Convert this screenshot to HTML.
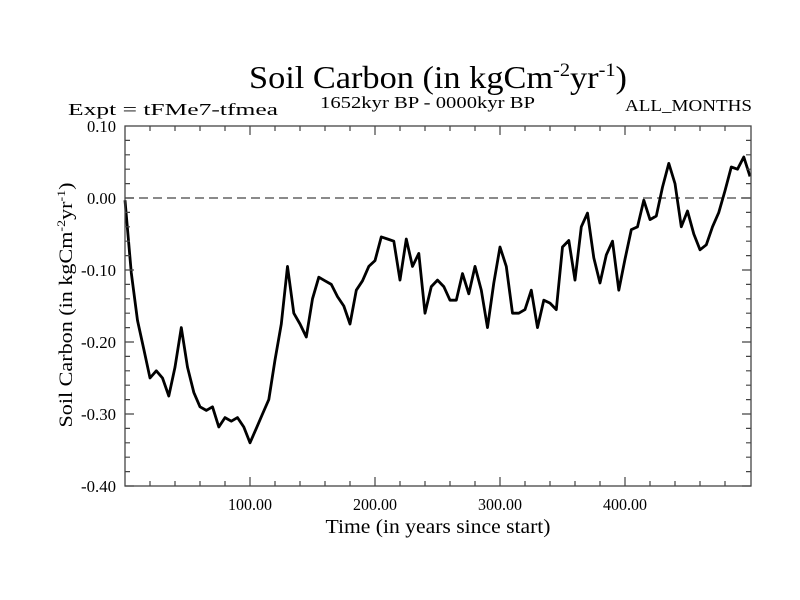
<!DOCTYPE html>
<html><head><meta charset="utf-8"><style>
body{margin:0;background:#fff}
svg{display:block;font-family:"Liberation Serif","Times New Roman",serif}
</style></head><body>
<svg id="chart" width="800" height="600" viewBox="0 0 800 600">
<text x="438" y="88" text-anchor="middle" font-size="32" textLength="378" lengthAdjust="spacingAndGlyphs">Soil Carbon (in kgCm<tspan font-size="19" dy="-12">-2</tspan><tspan dy="12">yr</tspan><tspan font-size="19" dy="-12">-1</tspan><tspan dy="12">)</tspan></text>
<text x="68" y="115" font-size="17" textLength="210" lengthAdjust="spacingAndGlyphs">Expt = tFMe7-tfmea</text>
<text x="320" y="108" font-size="17" textLength="215" lengthAdjust="spacingAndGlyphs">1652kyr BP - 0000kyr BP</text>
<text x="752" y="111" text-anchor="end" font-size="17" textLength="127" lengthAdjust="spacingAndGlyphs">ALL_MONTHS</text>
<text transform="translate(72,305) rotate(-90)" text-anchor="middle" font-size="19" textLength="245" lengthAdjust="spacingAndGlyphs">Soil Carbon (in kgCm<tspan font-size="12" dy="-7">-2</tspan><tspan dy="7">yr</tspan><tspan font-size="12" dy="-7">-1</tspan><tspan dy="7">)</tspan></text>
<text x="438" y="533" text-anchor="middle" font-size="20" textLength="225" lengthAdjust="spacingAndGlyphs">Time (in years since start)</text>
<g id="axes"></g>
</svg>
<script>
const times = [0,5,10,15,20,25,30,35,40,45,50,55,60,65,70,75,80,85,90,95,100,105,110,115,120,125,130,135,140,145,150,155,160,165,170,175,180,185,190,195,200,205,210,215,220,225,230,235,240,245,250,255,260,265,270,275,280,285,290,295,300,305,310,315,320,325,330,335,340,345,350,355,360,365,370,375,380,385,390,395,400,405,410,415,420,425,430,435,440,445,450,455,460,465,470,475,480,485,490,495,500];
const values = [-0.003,-0.104,-0.17,-0.21,-0.25,-0.24,-0.25,-0.275,-0.235,-0.18,-0.235,-0.27,-0.29,-0.295,-0.29,-0.318,-0.305,-0.31,-0.305,-0.318,-0.34,-0.32,-0.30,-0.28,-0.225,-0.175,-0.095,-0.16,-0.175,-0.193,-0.14,-0.11,-0.115,-0.12,-0.137,-0.15,-0.175,-0.128,-0.115,-0.095,-0.087,-0.054,-0.057,-0.06,-0.114,-0.057,-0.095,-0.077,-0.16,-0.123,-0.114,-0.123,-0.142,-0.142,-0.105,-0.133,-0.095,-0.128,-0.18,-0.118,-0.068,-0.095,-0.16,-0.16,-0.155,-0.128,-0.18,-0.142,-0.146,-0.155,-0.068,-0.059,-0.114,-0.04,-0.021,-0.083,-0.118,-0.079,-0.06,-0.128,-0.085,-0.044,-0.04,-0.003,-0.03,-0.025,0.015,0.048,0.02,-0.04,-0.018,-0.05,-0.072,-0.065,-0.04,-0.02,0.01,0.043,0.04,0.057,0.03];
const xTicks = [100,200,300,400];
const xTickLabels = ["100.00","200.00","300.00","400.00"];
const yTicks = [0.1,0,-0.1,-0.2,-0.3,-0.4];
const yTickLabels = ["0.10","0.00","-0.10","-0.20","-0.30","-0.40"];

const L=125,R=751,T=126,B=486,xMin=0,xMax=500.8,yMin=-0.4,yMax=0.1;
const X=v=>L+(v-xMin)/(xMax-xMin)*(R-L);
const Y=v=>B-(v-yMin)/(yMax-yMin)*(B-T);
const NS="http://www.w3.org/2000/svg";
const g=document.getElementById('axes');
function mk(t,a){const e=document.createElementNS(NS,t);for(const k in a)e.setAttribute(k,a[k]);g.appendChild(e);return e;}

const zero=mk('line',{x1:L,x2:R,y1:Y(0),y2:Y(0),stroke:'#444','stroke-width':1.2,'stroke-dasharray':'9,5'});



const d=times.map((t,i)=>(i?'L':'M')+X(t).toFixed(1)+','+Y(values[i]).toFixed(1)).join('');
const line=mk('path',{d:d,fill:'none',stroke:'#000','stroke-width':2.8,'stroke-linejoin':'round'});



const frame=mk('rect',{x:L,y:T,width:R-L,height:B-T,fill:'none',stroke:'#444','stroke-width':1.3});



let tk='';
for(let v=20;v<500;v+=20){const major=v%100===0;const len=major?9:5;const x=X(v);tk+=`M${x},${B}v${-len}M${x},${T}v${len}`;}
for(let k=0;k<25;k++){const v=yMin+k*0.02;const major=k%5===0;const len=major?9:5;const y=Y(v);tk+=`M${L},${y}h${len}M${R},${y}h${-len}`;}
const ticks=mk('path',{d:tk,stroke:'#444','stroke-width':1.2});



xTicks.forEach((v,i)=>{const t=mk('text',{x:X(v),y:B+24,'text-anchor':'middle','font-size':17,textLength:44,lengthAdjust:'spacingAndGlyphs'});t.textContent=xTickLabels[i];

});
yTicks.forEach((v,i)=>{const s=yTickLabels[i];const t=mk('text',{x:L-9,y:Y(v)+6,'text-anchor':'end','font-size':17,textLength:s.length>4?35:29,lengthAdjust:'spacingAndGlyphs'});t.textContent=s;

});
</script>
</body></html>
